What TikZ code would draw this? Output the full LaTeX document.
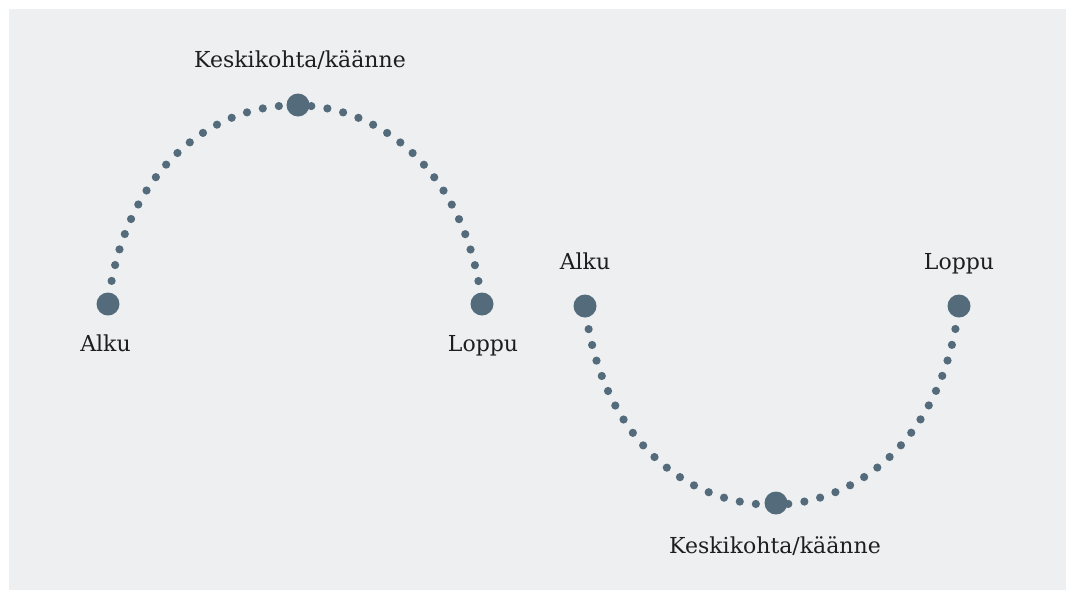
\documentclass[tikz,border=0pt]{standalone}
\usepackage{fontspec}
\setmainfont{DejaVu Serif}
\definecolor{bgc}{RGB}{238,239,241}
\definecolor{slate}{RGB}{84,107,123}
\definecolor{txt}{RGB}{30,30,30}
\begin{document}
\begin{tikzpicture}[x=1pt,y=-1pt,
  bignode/.style={circle,fill=slate,minimum size=23pt,inner sep=0pt,outer sep=0pt},
  dotline/.style={draw=slate,line width=8.2pt,line cap=round,dash pattern=on 0pt off 16.25pt,dash phase=9.1pt},
  lbl/.style={anchor=base,text=txt,font=\fontsize{22}{26}\selectfont,inner sep=0pt}]
\useasboundingbox (0,0) rectangle (1066,590);
\fill[bgc] (9,9) rectangle (1066,590);
% centres of the end points
\coordinate (a1c) at (108,304);
\coordinate (b1c) at (482,304);
\coordinate (a2c) at (585,306);
\coordinate (b2c) at (959,306);
% arcs
\draw[dotline] (a1c) .. controls (140,39) and (450,39) .. (b1c);
\draw[dotline] (a2c) .. controls (617,571) and (927,571) .. (b2c);
% points
\node[bignode] (a1) at (a1c) {};
\node[bignode] (b1) at (b1c) {};
\node[bignode] (m1) at (298,105) {};
\node[bignode] (a2) at (a2c) {};
\node[bignode] (b2) at (b2c) {};
\node[bignode] (m2) at (776,503) {};
% labels
\node[lbl] (la1) at (105.5,351) {Alku};
\node[lbl] (lb1) at (483,351) {Loppu};
\node[lbl] (lm1) at (300,67) {Keskikohta/käänne};
\node[lbl] (la2) at (585,269) {Alku};
\node[lbl] (lb2) at (959,269) {Loppu};
\node[lbl] (lm2) at (775,553) {Keskikohta/käänne};
\end{tikzpicture}
\end{document}
